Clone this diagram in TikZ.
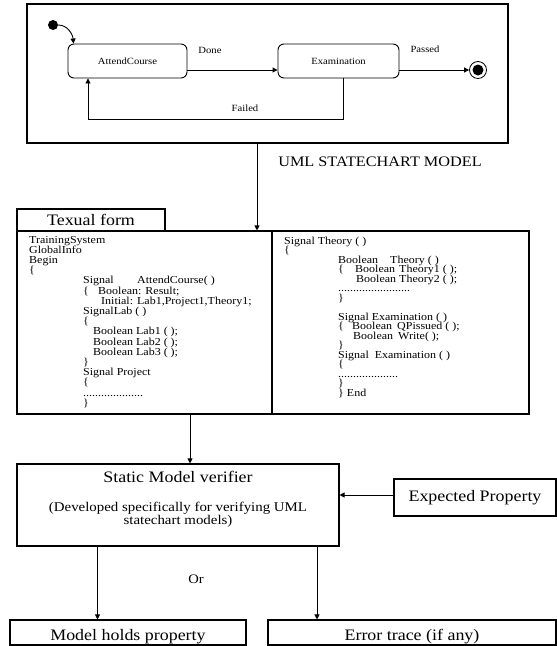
\documentclass[tikz,border=0pt]{standalone}
\usepackage{fontspec}
\setmainfont{Liberation Serif}[FakeStretch=1.12]
\usetikzlibrary{arrows.meta}

\tikzset{
  box/.style={draw, line width=1.1pt, inner sep=0pt},
  state/.style={draw, line width=0.9pt, rounded corners=6pt, inner sep=0pt,
                font=\fontsize{9.5}{11}\selectfont},
  arr/.style={line width=0.9pt, -{Triangle[length=5pt,width=5pt]}},
  lbl/.style={font=\fontsize{9.5}{11}\selectfont, inner sep=0pt},
  big/.style={font=\fontsize{16}{18}\selectfont},
  mid/.style={font=\fontsize{13.3}{15}\selectfont, inner sep=0pt},
  codetxt/.style={font=\fontsize{10.7}{11}\selectfont, inner sep=0pt, anchor=base west},
}

\begin{document}
\begin{tikzpicture}[x=1pt,y=-1pt]
\useasboundingbox (0,0) rectangle (557,646);

% ---------- statechart frame ----------
\node[draw, line width=1.3pt, minimum width=481pt, minimum height=139pt, inner sep=0pt] (frame) at (267.5,73.5) {};

\node[state, minimum width=119pt, minimum height=34pt] (att)  at (127.5,61) {AttendCourse};
\node[state, minimum width=121pt, minimum height=34pt] (exam) at (338.5,61) {Examination};

\node[circle, fill, inner sep=0pt, minimum size=10pt] (init) at (53,25) {};
\node[circle, draw, line width=0.8pt, inner sep=0pt, minimum size=17pt] (fin) at (478,70) {};
\node[circle, fill, inner sep=0pt, minimum size=11pt] (finin) at (fin) {};

\draw[arr] (init.east) to[out=0,in=95] ([xshift=-54pt]att.north);
\draw[arr] ([yshift=-9pt]att.east) -- ([yshift=-9pt]exam.west);
\draw[arr] ([yshift=-9pt]exam.east) -- (fin.west);
\draw[arr] ([xshift=4.5pt]exam.south) -- ++(0,41) -| ([xshift=-39.5pt]att.south);

\node[lbl] (done)   at (210,50)  {Done};
\node[lbl] (passed) at (425,49)  {Passed};
\node[lbl] (failed) at (245,108) {Failed};

\node[font=\fontsize{14.5}{16}\selectfont, inner sep=0pt] (umllbl) at (380,162) {UML STATECHART MODEL};

% ---------- textual form ----------
\node[box, big, minimum width=148pt, minimum height=22pt] (tab) at (91,220) {Texual form};
\node[box, minimum width=255pt, minimum height=183pt] (codeL) at (144.5,322.5) {};
\node[box, minimum width=257pt, minimum height=183pt] (codeR) at (400.5,322.5) {};

\draw[arr] ([xshift=-10.5pt]frame.south) -- ([xshift=-10.5pt]frame.south |- codeL.north);

\foreach \x/\y/\t [count=\i] in {
  29/243.0/{TrainingSystem},
  29/253.2/{GlobalInfo},
  29/263.4/{Begin},
  29/273.6/{\{},
  83/283.8/{\makebox[54pt][l]{Signal}AttendCourse( )},
  83/294.0/{\makebox[15pt][l]{\{}Boolean: Result;},
  101/304.2/{Initial: Lab1,Project1,Theory1;},
  83/314.4/{SignalLab ( )},
  83/324.6/{\{},
  93/334.8/{Boolean Lab1 ( );},
  93/345.0/{Boolean Lab2 ( );},
  93/355.2/{Boolean Lab3 ( );},
  83/365.4/{\}},
  83/375.6/{Signal Project},
  83/385.8/{\{},
  83/396.0/{....................},
  83/406.2/{\}}}
  \node[codetxt] (cl\i) at (\x,\y) {\t};

\foreach \x/\y/\t [count=\i] in {
  284/244.0/{Signal Theory ( )},
  284/253.5/{\{},
  338/263.0/{\makebox[52pt][l]{Boolean}Theory ( )},
  338/272.5/{\makebox[17pt][l]{\{}\makebox[44pt][l]{Boolean}Theory1 ( );},
  356/282.0/{\makebox[43pt][l]{Boolean}Theory2 ( );},
  338/291.5/{........................},
  338/301.0/{\}},
  338/320.0/{Signal Examination ( )},
  338/329.5/{\makebox[14pt][l]{\{}\makebox[45pt][l]{Boolean}QPissued ( );},
  353/339.0/{\makebox[45pt][l]{Boolean}Write( );},
  338/348.5/{\}},
  338/358.0/{Signal\ \ Examination ( )},
  338/367.5/{\{},
  338/377.0/{....................},
  338/386.5/{\}},
  338/396.0/{\} End}}
  \node[codetxt] (cr\i) at (\x,\y) {\t};

% ---------- verifier ----------
\node[box, minimum width=322pt, minimum height=82pt] (ver) at (178,505) {};
\node[big, inner sep=0pt, anchor=base] (vert) at (178,482) {Static Model verifier};
\node[mid, anchor=base] (verd1) at (178,511) {(Developed specifically for verifying UML};
\node[mid, anchor=base] (verd2) at (178,524) {statechart models)};

\draw[arr] ([xshift=45.5pt]codeL.south) -- ([xshift=45.5pt]codeL.south |- ver.north);

\node[box, big, minimum width=162pt, minimum height=37pt] (exp) at (475,497.5) {Expected Property};
\draw[arr] ([yshift=2.5pt]exp.west) -- ([yshift=2.5pt]exp.west -| ver.east);

% ---------- outcomes ----------
\node[box, big, minimum width=236pt, minimum height=25pt, text height=15pt, text depth=0pt] (mhp) at (128,632.5) {Model holds property};
\node[box, big, minimum width=288pt, minimum height=25pt, text height=15pt, text depth=0pt] (err) at (412,632.5) {Error trace (if any)};

\draw[arr] ([xshift=-80.5pt]ver.south) -- ([xshift=-80.5pt]ver.south |- mhp.north);
\draw[arr] ([xshift=139pt]ver.south) -- ([xshift=139pt]ver.south |- err.north);

\node[font=\fontsize{13}{15}\selectfont, inner sep=0pt] (orlbl) at (196,579) {Or};
\end{tikzpicture}
\end{document}
